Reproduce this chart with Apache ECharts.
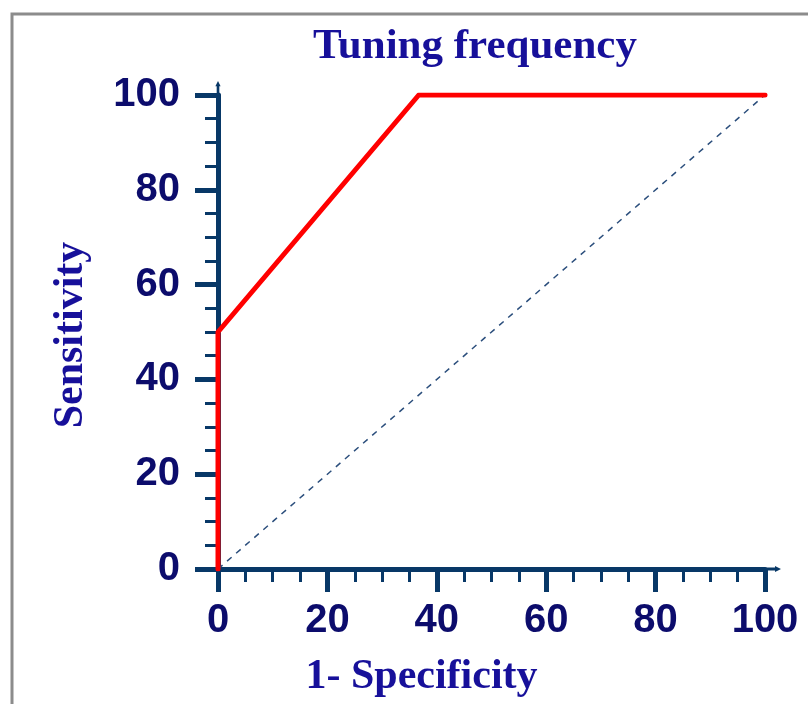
<!DOCTYPE html>
<html>
<head>
<meta charset="utf-8">
<script src="https://cdn.jsdelivr.net/npm/echarts@6/dist/echarts.min.js"></script>
<style>
html,body{margin:0;padding:0;background:#fff;}
#chart{width:808px;height:704px;}
</style>
</head>
<body>
<div id="chart"></div>
<script>
// Data
var titleText = 'Tuning frequency';
var xName = '1- Specificity';
var yName = 'Sensitivity';
var rocX = [0, 0, 36.7, 100];
var rocY = [0, 50, 100, 100];
var refX = [0, 100];
var refY = [0, 100];
var axisTicks = [0, 20, 40, 60, 80, 100];

function pairs(xs, ys) { return xs.map(function (x, i) { return [x, ys[i]]; }); }

var axisColor = '#083867';
var labelColor = '#0c0c6c';
var nameColor = '#17109a';
var arrowPath = 'path://M3,0 L6,6 L4.5,6 L4.5,16 L1.5,16 L1.5,6 L0,6 Z';

function axisCommon(extra) {
  var o = {
    type: 'value',
    min: axisTicks[0],
    max: axisTicks[axisTicks.length - 1],
    interval: axisTicks[1] - axisTicks[0],
    splitLine: { show: false },
    axisLine: { show: true, onZero: false, lineStyle: { color: axisColor, width: 5 } },
    axisTick: { show: true, inside: false, length: 23, lineStyle: { color: axisColor, width: 5 } },
    minorTick: { show: true, splitNumber: 4, length: 13, lineStyle: { color: axisColor, width: 3 } },
    axisLabel: { color: labelColor, fontFamily: 'Liberation Sans, Arial, sans-serif', fontWeight: 'bold', fontSize: 40 },
    nameLocation: 'middle',
    nameTextStyle: { color: nameColor, fontFamily: 'Liberation Serif, Times New Roman, serif', fontWeight: 'bold', fontSize: 42 }
  };
  for (var k in extra) {
    if (typeof extra[k] === 'object' && o[k] && !Array.isArray(extra[k])) {
      for (var j in extra[k]) o[k][j] = extra[k][j];
    } else o[k] = extra[k];
  }
  return o;
}

var chart = echarts.init(document.getElementById('chart'));
chart.setOption({
  backgroundColor: '#ffffff',
  animation: false,
  title: {
    text: titleText,
    left: 470, top: 20, textAlign: 'center',
    textStyle: { color: nameColor, fontFamily: 'Liberation Serif, Times New Roman, serif', fontWeight: 'bold', fontSize: 43 }
  },
  graphic: [{
    type: 'rect', shape: { x: 12, y: 14, width: 900, height: 900 },
    style: { fill: 'none', stroke: '#8c8c8c', lineWidth: 3 }, silent: true, z: -1
  }],
  grid: { left: 218, right: 43, top: 95, bottom: 135, containLabel: false },
  xAxis: axisCommon({
    name: xName, nameGap: 87,
    nameTextStyle: { padding: [0, 140, 0, 0] },
    axisLine: { symbol: ['none', arrowPath], symbolSize: [9, 16], symbolOffset: [0, 8] },
    axisLabel: { margin: 32 }
  }),
  yAxis: axisCommon({
    name: yName, nameGap: 126, nameRotate: 90,
    nameTextStyle: { padding: [0, 6, 0, 0] },
    axisLine: { symbol: ['none', arrowPath], symbolSize: [9, 14], symbolOffset: [0, 7] },
    axisLabel: { margin: 38 }
  }),
  series: [{
    type: 'line', data: pairs(refX, refY), showSymbol: false, symbol: 'none',
    lineStyle: { color: '#2b4e7c', width: 1.5, type: [6, 6] }, z: 2
  }, {
    type: 'line', data: pairs(rocX, rocY), showSymbol: false, symbol: 'none',
    lineStyle: { color: '#ff0000', width: 5, cap: 'round', join: 'round' }, z: 3
  }]
});
</script>
</body>
</html>
